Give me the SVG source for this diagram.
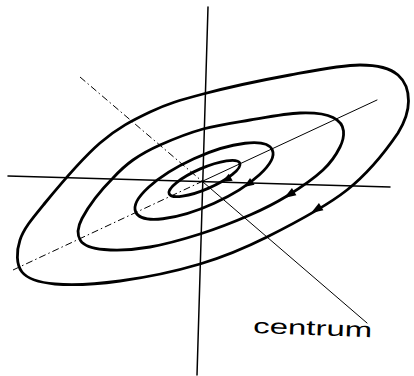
<svg xmlns="http://www.w3.org/2000/svg" xmlns:xlink="http://www.w3.org/1999/xlink" width="414" height="376" viewBox="0 0 414 376">
<style>
.bg{fill:#fff}
.axis{fill:none;stroke:#000;stroke-width:1.5;stroke-linecap:round}
.thin{fill:none;stroke:#000;stroke-width:1;stroke-linecap:round}
.dash{fill:none;stroke:#000;stroke-width:1;stroke-dasharray:7 3 1.5 3}
.curve{fill:none;stroke:#000;stroke-width:2.8;stroke-linejoin:round}
.ah{fill:#000}
.lbl{font-family:"Liberation Sans","DejaVu Sans",sans-serif;font-size:21px;fill:#000}
</style>
<defs>
<path id="ahBig" d="M0,0 L-12,-4.2 L-12,4.2 Z"/>
<path id="ahSmall" d="M0,0 L-10,-4 L-10,4 Z"/>
</defs>
<rect class="bg" x="0" y="0" width="414" height="376"/>
<g id="connectors">
<line class="axis" x1="208" y1="7" x2="197" y2="375"/>
<line class="axis" x1="8" y1="176" x2="390" y2="187"/>
<line class="dash" x1="13" y1="270" x2="203" y2="181"/>
<line class="thin" x1="203" y1="181" x2="377" y2="100"/>
<line class="dash" x1="80" y1="77" x2="203" y2="182"/>
<line class="thin" x1="203" y1="182" x2="367" y2="323"/>
</g>
<g id="ellipse-outer">
<path class="curve" d="M203,94 C226.3,87.8 263.8,79.8 290,75 C316.2,70.2 342.2,65 360,65 C377.8,65 390,68 398,75 C406,82 408.5,91 408.5,101 C408.5,111 406,120 398,133 C387.8,148 368.8,172.7 347,190 C325.2,207.3 291.5,224.7 267,237 C242.5,249.3 224.5,256.7 200,264 C175.5,271.3 144.2,277.7 120,281 C95.8,284.3 71.3,285.5 55,284 C38.7,282.5 27.8,279.3 22,272 C16.2,264.7 16.2,251.5 20,240 C23.8,228.5 31.7,219.2 45,203 C58.3,186.8 82.5,158.2 100,143 C117.5,127.8 132.8,120.2 150,112 C167.2,103.8 179.7,100.2 203,94 Z"/>
<use class="ah" xlink:href="#ahBig" transform="translate(311,213) rotate(148)"/>
</g>
<g id="ellipse-second">
<path class="curve" d="M203,129 C218,124.8 233.8,122.7 250,120 C266.2,117.3 286.2,113.5 300,113 C313.8,112.5 326,114 333,117.5 C340,121 343,125.5 343.5,131 C344,136.5 343,141 340,147 C336.7,153.7 331.8,161.8 323,170 C314.2,178.2 299.2,188.5 287,196 C274.8,203.5 264.5,208.7 250,215 C235.5,221.3 216.7,228.7 200,234 C183.3,239.3 165.3,244.3 150,247 C134.7,249.7 116,250.5 104,249.5 C92,248.5 84,246 80.5,240.5 C77,235 77.5,227 82,218.5 C86.5,210 96,195 113,178 C120.2,170.2 125.2,165.5 133,160 C140.8,154.5 148.3,150.2 160,145 C171.7,139.8 188,133.2 203,129 Z"/>
<use class="ah" xlink:href="#ahBig" transform="translate(284,198) rotate(148)"/>
</g>
<g id="ellipse-third">
<ellipse class="curve" cx="204" cy="181" rx="75" ry="24.5" transform="rotate(-24.5 204 181)"/>
<use class="ah" xlink:href="#ahSmall" transform="translate(244,187) rotate(146)"/>
</g>
<g id="ellipse-inner">
<ellipse class="curve" cx="204.5" cy="178.5" rx="38.5" ry="10.5" transform="rotate(-23.6 204.5 178.5)"/>
<use class="ah" xlink:href="#ahSmall" transform="translate(222,182) rotate(151)"/>
</g>
<g id="label-centrum">
<text class="lbl" x="253" y="333" textLength="119" lengthAdjust="spacingAndGlyphs" transform="rotate(2 253 333)">centrum</text>
</g>
</svg>
